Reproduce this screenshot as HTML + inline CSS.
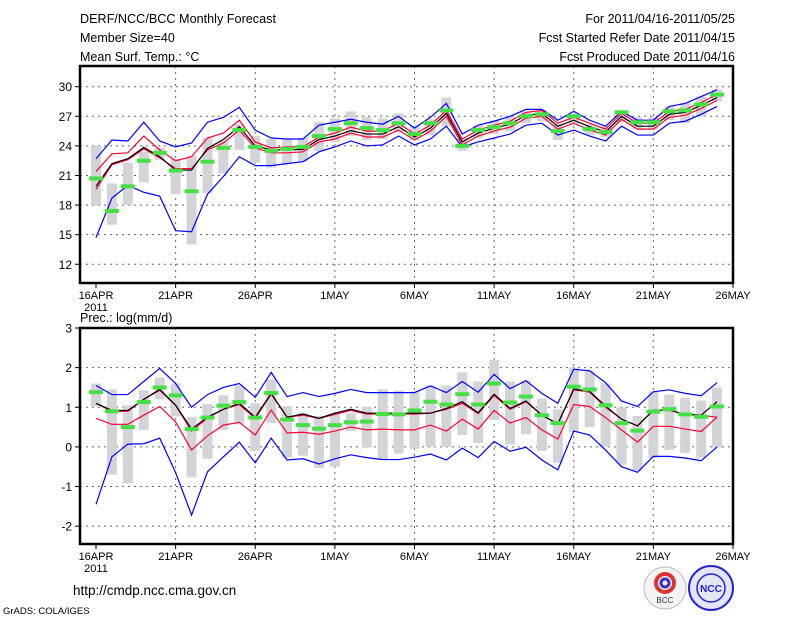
<!DOCTYPE html>
<html><head><meta charset="utf-8"><title>DERF/NCC/BCC Monthly Forecast</title>
<style>
html,body{margin:0;padding:0;background:#fff;}
svg{display:block;font-family:"Liberation Sans",sans-serif;}
</style></head>
<body>
<svg id="chart" width="800" height="618" viewBox="0 0 800 618" xmlns="http://www.w3.org/2000/svg">
<rect width="800" height="618" fill="#fff"/>
<g font-size="12.5" fill="#000">
<text x="80" y="23" textLength="196" lengthAdjust="spacingAndGlyphs">DERF/NCC/BCC Monthly Forecast</text>
<text x="80" y="42">Member Size=40</text>
<text x="80" y="61">Mean Surf. Temp.: °C</text>
<text x="735" y="23" text-anchor="end">For 2011/04/16-2011/05/25</text>
<text x="735" y="42" text-anchor="end">Fcst Started Refer Date 2011/04/15</text>
<text x="735" y="61" text-anchor="end">Fcst Produced Date 2011/04/16</text>
<text x="80" y="322">Prec.: log(mm/d)</text>
</g>
<g id="top"></g>
<g id="bot"></g>
<g>
<text x="73" y="595" font-size="13.5">http://cmdp.ncc.cma.gov.cn</text>
<text x="3" y="614" font-size="9.5">GrADS: COLA/IGES</text>
<g>
<circle cx="665" cy="588" r="21" fill="#f4f4f4" stroke="#bbb"/>
<circle cx="665" cy="583" r="9" fill="none" stroke="#d33" stroke-width="4"/>
<circle cx="665" cy="583" r="4" fill="none" stroke="#33c" stroke-width="3"/>
<text x="665" y="603" font-size="8" text-anchor="middle" fill="#333">BCC</text>
</g>
<g>
<circle cx="711" cy="588" r="22" fill="#e4e6f4" stroke="#22d" stroke-width="2"/>
<circle cx="711" cy="588" r="14" fill="none" stroke="#22d" stroke-width="1.5"/>
<text x="711" y="592" font-size="10" text-anchor="middle" fill="#22d" font-weight="bold">NCC</text>
</g>
</g>
</svg>
<script>
const tempBlack=[19.9,22.2,22.7,23.85,22.9,21.55,21.55,23.75,24.65,25.95,24.0,23.6,23.6,23.65,24.65,25.0,25.55,25.2,25.2,25.95,24.9,25.8,27.3,24.4,25.3,25.8,26.2,27.1,27.3,26.0,26.6,25.95,25.4,27.0,26.0,26.0,27.2,27.4,28.1,28.9];
const tempRedHi=[21.4,23.2,23.3,25.0,23.6,22.5,22.9,24.8,25.3,26.6,24.4,23.8,23.9,23.9,24.9,25.3,25.9,25.5,25.5,26.3,25.2,26.1,27.6,24.7,25.6,26.1,26.5,27.4,27.6,26.3,26.9,26.3,25.7,27.3,26.3,26.3,27.5,27.7,28.4,29.2];
const tempRedLo=[19.6,22.1,22.6,23.7,22.8,21.7,21.7,23.6,24.3,25.6,23.8,23.3,23.3,23.4,24.4,24.7,25.3,24.9,24.9,25.6,24.6,25.5,27.0,24.1,25.0,25.5,25.9,26.8,27.0,25.7,26.3,25.6,25.1,26.7,25.7,25.7,26.9,27.1,27.8,28.6];
const tempBlueHi=[22.7,24.6,24.5,26.4,24.5,23.9,24.3,26.4,26.9,27.9,25.6,24.8,24.7,24.7,26.1,26.4,26.7,26.4,26.2,27.0,25.8,26.9,28.3,25.2,26.1,26.5,27.0,27.7,27.7,26.6,27.5,26.6,26.0,27.5,26.6,26.6,28.0,28.3,29.0,29.7];
const tempBlueLo=[14.7,18.7,20.0,19.3,18.9,15.4,15.3,19.1,20.9,22.9,22.0,22.0,22.2,22.4,23.4,23.9,24.5,24.0,24.1,25.0,24.1,24.7,26.0,23.9,24.4,24.8,25.2,26.1,26.3,25.1,25.6,25.0,24.5,26.0,25.1,25.1,26.3,26.5,27.2,28.0];
const tempObs=[20.7,17.4,19.9,22.5,23.3,21.5,19.4,22.4,23.8,25.6,23.9,23.5,23.7,23.9,25.0,25.7,26.3,25.8,25.6,26.3,25.2,26.3,27.6,24.0,25.6,25.9,26.3,27.0,27.2,25.5,27.0,25.7,25.4,27.4,26.4,26.4,27.5,27.6,28.2,29.2];
const tempBarLo=[18.0,16.0,18.0,20.3,22.6,19.1,14.0,19.2,21.2,23.6,22.3,21.8,22.2,22.4,23.5,24.4,25.0,24.6,24.7,25.4,24.6,25.1,26.0,23.5,24.8,25.2,25.5,26.3,26.5,24.6,26.2,25.1,24.9,26.4,25.7,25.7,26.6,26.3,27.0,28.5];
const tempBarHi=[24.0,20.2,22.3,23.4,23.8,22.7,23.0,24.8,24.5,26.2,25.0,24.7,24.7,24.8,26.4,26.8,27.5,26.9,26.8,27.3,26.0,26.7,28.9,24.8,26.1,26.6,27.0,27.4,27.6,26.2,27.2,26.2,26.0,27.6,26.9,26.9,28.0,28.4,29.0,29.7];
const tempTicks=[12,15,18,21,24,27,30];
const prBlack=[1.1,0.92,0.92,1.2,1.45,1.05,0.45,0.75,0.95,1.1,0.75,1.35,0.75,0.83,0.72,0.85,0.95,0.85,0.85,0.85,0.85,0.85,0.97,1.14,0.86,1.33,0.97,1.16,0.8,0.58,1.46,1.4,1.03,0.7,0.53,0.93,0.93,0.82,0.8,1.14];
const prRedHi=[1.1,0.9,0.9,1.2,1.43,1.05,0.4,0.73,0.95,1.07,0.72,1.33,0.75,0.8,0.72,0.82,0.92,0.83,0.83,0.83,0.83,0.85,0.95,1.1,0.84,1.3,0.95,1.14,0.8,0.58,1.44,1.38,1.0,0.7,0.53,0.92,0.92,0.82,0.8,0.75];
const prRedLo=[0.72,0.57,0.57,0.8,1.02,0.63,-0.08,0.28,0.55,0.62,0.3,0.93,0.35,0.37,0.32,0.4,0.5,0.43,0.45,0.43,0.43,0.55,0.4,0.7,0.45,0.92,0.6,0.74,0.43,0.2,1.07,1.02,0.74,0.43,0.12,0.52,0.52,0.45,0.39,0.75];
const prBlueHi=[1.55,1.32,1.32,1.65,1.98,1.6,1.0,1.32,1.5,1.6,1.25,1.88,1.27,1.37,1.27,1.35,1.45,1.37,1.37,1.37,1.37,1.54,1.37,1.65,1.38,1.83,1.47,1.67,1.35,1.1,1.96,1.92,1.62,1.16,1.02,1.39,1.44,1.35,1.29,1.62];
const prBlueLo=[-1.45,-0.25,0.07,0.08,0.22,-0.65,-1.72,-0.63,-0.25,0.12,-0.4,0.22,-0.33,-0.3,-0.43,-0.3,-0.2,-0.27,-0.32,-0.32,-0.26,-0.18,-0.33,-0.03,-0.27,0.14,-0.11,-0.01,-0.33,-0.58,0.4,0.3,-0.08,-0.5,-0.64,-0.24,-0.24,-0.28,-0.35,0.0];
const prObs=[1.38,0.9,0.5,1.13,1.5,1.3,0.45,0.74,1.04,1.13,0.74,1.36,0.69,0.55,0.46,0.55,0.62,0.64,0.83,0.82,0.92,1.14,1.07,1.33,1.07,1.6,1.12,1.27,0.8,0.6,1.52,1.45,1.05,0.6,0.41,0.89,0.95,0.82,0.76,1.02];
const prBarLo=[1.03,-0.7,-0.92,0.43,1.2,0.77,-0.77,-0.3,0.43,0.57,-0.1,0.6,-0.27,-0.22,-0.53,-0.5,0.4,-0.02,-0.32,-0.17,-0.05,0.0,0.0,0.3,0.1,0.68,0.06,0.32,-0.1,-0.4,0.38,0.5,0.0,-0.45,-0.6,-0.28,-0.07,-0.15,-0.27,-0.02];
const prBarHi=[1.6,1.45,1.05,1.43,1.75,1.6,0.75,1.08,1.3,1.55,1.1,1.7,1.03,0.85,0.78,0.85,0.85,1.02,1.45,1.42,1.4,1.55,1.55,1.88,1.65,2.2,1.65,1.68,1.22,0.95,2.0,1.93,1.6,1.0,0.78,1.4,1.32,1.24,1.17,1.5];
const prTicks=[-2,-1,0,1,2,3];
const dateLabels=["16APR","21APR","26APR","1MAY","6MAY","11MAY","16MAY","21MAY","26MAY"];
const dateLabelDays=[0,5,10,15,20,25,30,35,40];

const NS="http://www.w3.org/2000/svg";
function mk(tag,attrs,parent){const e=document.createElementNS(NS,tag);for(const k in attrs)e.setAttribute(k,attrs[k]);parent.appendChild(e);return e;}

function drawPanel(g,cfg){
  const L=80,R=733;
  const x=d=>96+d*(R-96)/40;
  const y=v=>cfg.top+(cfg.vmax-v)*(cfg.bot-cfg.top)/(cfg.vmax-cfg.vmin);
  cfg.ticks.forEach(t=>{
    const yy=y(t);
    if(yy>cfg.top+1&&yy<cfg.bot-1){
      const ln=mk('line',{x1:L,x2:R,y1:yy,y2:yy,stroke:'#666','stroke-dasharray':'2,4','stroke-width':1},g);
      
      
    }
    const tk=mk('line',{x1:L-5,x2:L,y1:yy,y2:yy,stroke:'#000'},g);
    
    
    const tx=mk('text',{x:L-8,y:yy+4.5,'font-size':12,'text-anchor':'end'},g);
    tx.textContent=String(t);
    
    
  });
  dateLabelDays.forEach((d,i)=>{
    const xx=x(d);
    if(d>0&&d<40){
      const ln=mk('line',{x1:xx,x2:xx,y1:cfg.top,y2:cfg.bot,stroke:'#666','stroke-dasharray':'2,4'},g);
      
      
    }
    const tk=mk('line',{x1:xx,x2:xx,y1:cfg.bot,y2:cfg.bot+5,stroke:'#000'},g);
    
    
    const tx=mk('text',{x:xx,y:cfg.bot+16,'font-size':11,'text-anchor':'middle'},g);
    tx.textContent=dateLabels[i];
    
    
  });
  const yr=mk('text',{x:x(0),y:cfg.bot+28,'font-size':11,'text-anchor':'middle'},g);
  yr.textContent='2011';
  
  
  cfg.barLo.forEach((lo,i)=>{
    const hi=cfg.barHi[i];
    const r=mk('rect',{x:x(i)-5,y:y(hi),width:10,height:Math.max(1,y(lo)-y(hi)),fill:'#d3d4d8'},g);
    
    
  });
  const line=(arr,color,name)=>{
    const p=mk('polyline',{points:arr.map((v,i)=>x(i)+','+y(v)).join(' '),fill:'none',stroke:color,'stroke-width':1.2},g);
    
    
  };
  line(cfg.blueHi,'#0000ff','upper-bound-line');
  line(cfg.blueLo,'#0000ff','lower-bound-line');
  line(cfg.redHi,'#ff0033','upper-spread-line');
  line(cfg.redLo,'#ff0033','lower-spread-line');
  line(cfg.black,'#000','ensemble-mean-line');
  cfg.obs.forEach((v,i)=>{
    const r=mk('rect',{x:x(i)-7,y:y(v)-2,width:14,height:4,fill:'#44e044'},g);
    
    
  });
  const f=mk('rect',{x:L,y:cfg.top,width:R-L,height:cfg.bot-cfg.top,fill:'none',stroke:'#000','stroke-width':2.5},g);
  
  
}
drawPanel(document.getElementById('top'),{top:66,bot:283,vmin:10.1,vmax:32.1,ticks:tempTicks,
  black:tempBlack,redHi:tempRedHi,redLo:tempRedLo,blueHi:tempBlueHi,blueLo:tempBlueLo,obs:tempObs,barLo:tempBarLo,barHi:tempBarHi});
drawPanel(document.getElementById('bot'),{top:328,bot:544,vmin:-2.45,vmax:3,ticks:prTicks,
  black:prBlack,redHi:prRedHi,redLo:prRedLo,blueHi:prBlueHi,blueLo:prBlueLo,obs:prObs,barLo:prBarLo,barHi:prBarHi});
</script>
</body></html>
